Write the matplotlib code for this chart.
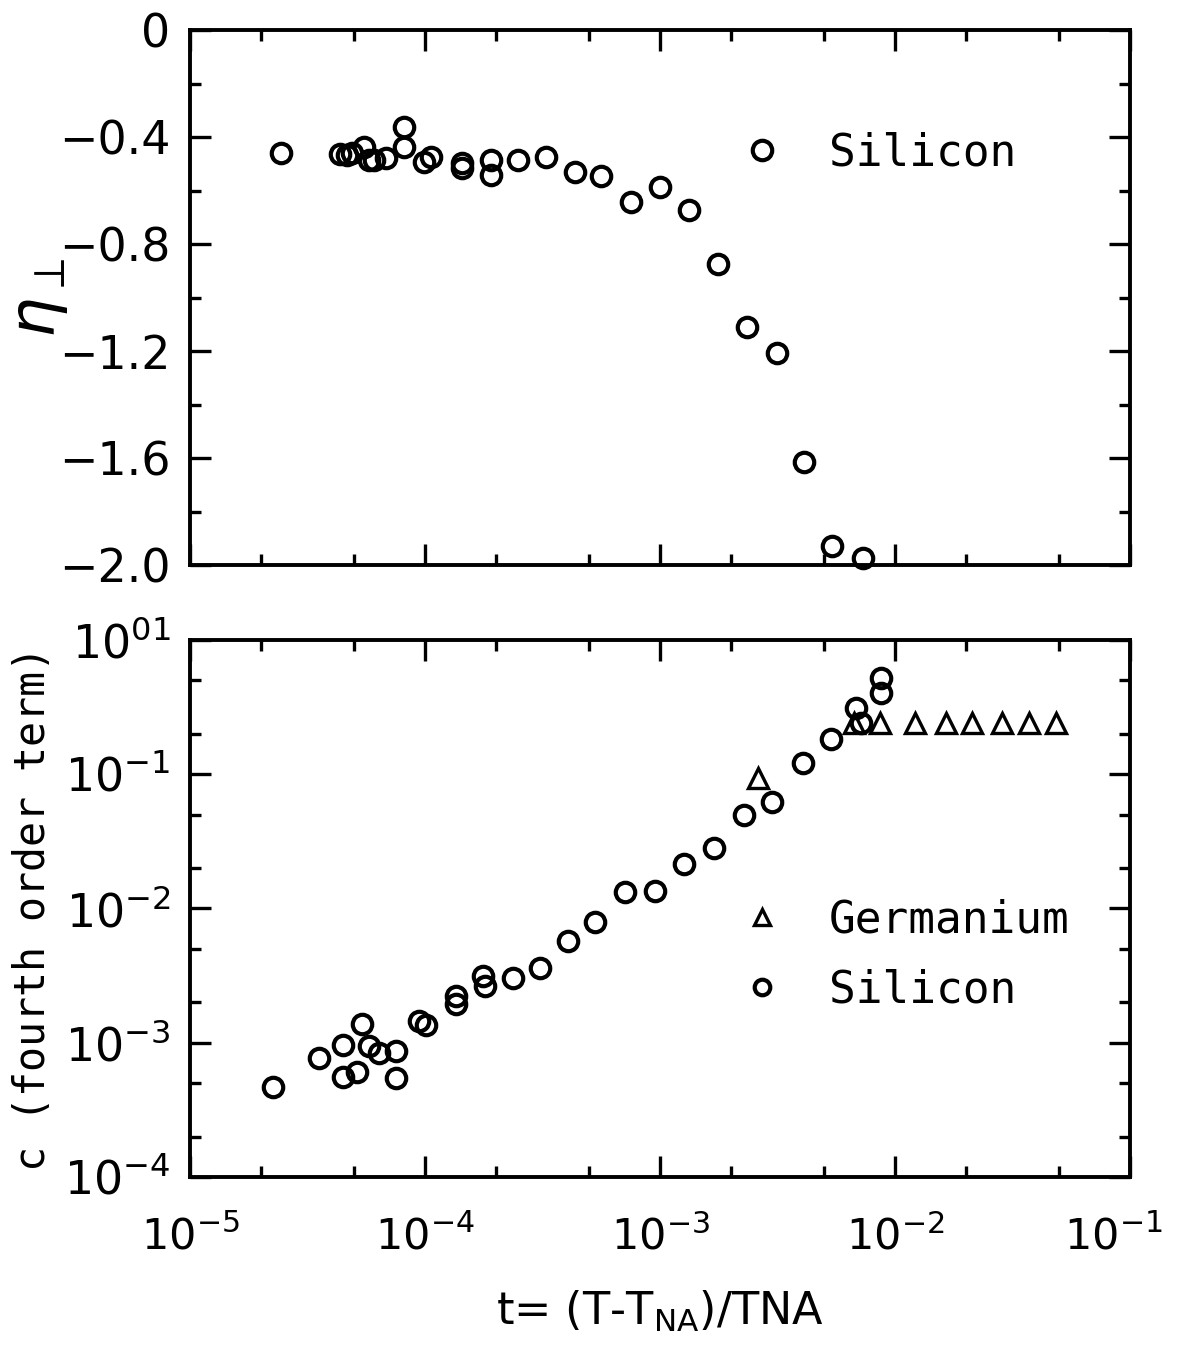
import matplotlib
matplotlib.use('Agg')
import matplotlib.pyplot as plt
import matplotlib.transforms as mtransforms
from matplotlib.ticker import LogLocator, FixedLocator, FixedFormatter, MultipleLocator, NullFormatter

# top panel: eta_perp, silicon
t_si_eta = [2.43e-5, 4.33e-5, 4.66e-5, 4.89e-5, 5.5e-5, 5.77e-5, 6.06e-5, 6.8e-5,
            8.1e-5, 8.1e-5, 9.9e-5, 1.065e-4, 1.43e-4, 1.43e-4, 1.91e-4, 1.91e-4,
            2.49e-4, 3.27e-4, 4.33e-4, 5.63e-4, 7.54e-4, 1.0e-3, 1.33e-3, 1.77e-3,
            2.35e-3, 3.13e-3, 4.1e-3, 5.4e-3, 7.3e-3]
eta_si = [-0.46, -0.464, -0.467, -0.46, -0.437, -0.486, -0.486, -0.478,
          -0.363, -0.437, -0.493, -0.475, -0.497, -0.516, -0.486, -0.542,
          -0.486, -0.475, -0.531, -0.546, -0.643, -0.587, -0.673, -0.875,
          -1.11, -1.207, -1.615, -1.929, -1.974]

# bottom panel: fourth order term c
t_si = [2.26e-5, 3.55e-5, 4.48e-5, 4.48e-5, 5.13e-5, 5.39e-5, 5.77e-5, 6.36e-5,
        7.5e-5, 7.5e-5, 9.4e-5, 1.005e-4, 1.35e-4, 1.35e-4, 1.77e-4, 1.8e-4,
        2.37e-4, 3.08e-4, 4.04e-4, 5.31e-4, 7.11e-4, 9.53e-4, 1.26e-3, 1.69e-3,
        2.27e-3, 3.0e-3, 4.06e-3, 5.34e-3, 6.8e-3, 7.15e-3, 8.7e-3, 8.7e-3]
c_si = [4.7e-4, 7.7e-4, 9.7e-4, 5.6e-4, 6.1e-4, 1.39e-3, 9.5e-4, 8.4e-4,
        8.7e-4, 5.5e-4, 1.46e-3, 1.36e-3, 2.24e-3, 1.95e-3, 3.16e-3, 2.66e-3,
        3.06e-3, 3.63e-3, 5.77e-3, 7.87e-3, 1.32e-2, 1.34e-2, 2.13e-2, 2.8e-2,
        4.94e-2, 6.18e-2, 0.121, 0.182, 0.311, 0.240, 0.52, 0.40]
t_ge = [2.6e-3, 6.68e-3, 8.6e-3, 1.22e-2, 1.65e-2, 2.13e-2, 2.85e-2, 3.71e-2, 4.86e-2]
c_ge = [9.33e-2, 0.24, 0.24, 0.24, 0.24, 0.24, 0.24, 0.24, 0.24]

eta_ticks = [0, -0.4, -0.8, -1.2, -1.6, -2.0]
eta_labels = ['0', '\u22120.4', '\u22120.8', '\u22121.2', '\u22121.6', '\u22122.0']
c_ticks = [1e-4, 1e-3, 1e-2, 1e-1, 1e0]
c_labels = [r'$10^{-4}$', r'$10^{-3}$', r'$10^{-2}$', r'$10^{-1}$', r'$10^{01}$']
t_ticks = [1e-5, 1e-4, 1e-3, 1e-2, 1e-1]
t_labels = [r'$10^{-5}$', r'$10^{-4}$', r'$10^{-3}$', r'$10^{-2}$', r'$10^{-1}$']

plt.rcParams['font.family'] = ['DejaVu Sans']
plt.rcParams['mathtext.fontset'] = 'dejavusans'
mono = ['DejaVu Sans Mono']

fig = plt.figure(figsize=(11.79, 13.47), dpi=100)
ax1 = fig.add_axes([0.1612, 0.5805, 0.7973, 0.3972])
ax2 = fig.add_axes([0.1612, 0.1262, 0.7973, 0.3987])

circ = dict(linestyle='none', marker='o', mfc='none', mec='black', ms=14, mew=3.0, clip_on=False)
tri = dict(linestyle='none', marker='^', mfc='none', mec='black', ms=15, mew=2.4, clip_on=False)

for ax in (ax1, ax2):
    ax.set_xscale('log')
    ax.set_xlim(1e-5, 1e-1)
    ax.xaxis.set_major_locator(FixedLocator(t_ticks))
    ax.xaxis.set_minor_locator(LogLocator(base=10, subs=(2.0, 5.0), numticks=20))
    ax.xaxis.set_minor_formatter(NullFormatter())
    ax.tick_params(which='both', direction='in', top=True, right=True, width=2.4)
    ax.tick_params(which='major', length=15, labelsize=33, pad=14)
    ax.tick_params(which='minor', length=8)
    ax.tick_params(axis='x', which='major', pad=28, labelsize=31)
    for s in ax.spines.values():
        s.set_linewidth(2.8)

# top panel
ax1.plot(t_si_eta, eta_si, label='Silicon', **circ)
ax1.set_ylim(-2.0, 0)
ax1.yaxis.set_major_locator(FixedLocator(eta_ticks))
ax1.yaxis.set_major_formatter(FixedFormatter(eta_labels))
ax1.yaxis.set_minor_locator(MultipleLocator(0.2))
ax1.set_xticklabels([])
ax1.set_ylabel(r'$\eta_{\perp}$', fontsize=46)
ax1.yaxis.set_label_coords(-0.128, 0.5)
ax1.legend(loc='center left', bbox_to_anchor=(0.59, 0.77), frameon=False,
           handlelength=0.8, handletextpad=1.1, borderpad=0, borderaxespad=0,
           prop={'family': mono, 'size': 32})

# bottom panel
ax2.set_yscale('log')
ge, = ax2.plot(t_ge, c_ge, label='Germanium', **tri)
si, = ax2.plot(t_si, c_si, label='Silicon', **circ)
ax2.set_ylim(1e-4, 1e0)
ax2.yaxis.set_major_locator(FixedLocator(c_ticks))
ax2.yaxis.set_major_formatter(FixedFormatter(c_labels))
ax2.yaxis.set_minor_locator(LogLocator(base=10, subs=(2.0, 5.0), numticks=20))
ax2.yaxis.set_minor_formatter(NullFormatter())
ax2.xaxis.set_major_formatter(FixedFormatter(t_labels))
ax2.set_ylabel('c (fourth order term)', fontsize=30, family=mono)
ax2.yaxis.set_label_coords(-0.145, 0.5)
ax2.set_xlabel(r't= (T-T$_{\rm NA}$)/TNA', fontsize=32, labelpad=22)
ax2.legend(handles=[ge, si], loc='center left', bbox_to_anchor=(0.59, 0.413), frameon=False,
           handlelength=0.8, handletextpad=1.1, labelspacing=0.6, borderpad=0,
           borderaxespad=0, markerscale=0.8, prop={'family': mono, 'size': 32})

# last x tick label sits at the figure edge; nudge it in a little
last = ax2.get_xticklabels()[-1]
last.set_transform(last.get_transform() + mtransforms.ScaledTranslation(-12 / 72, 0, fig.dpi_scale_trans))

fig.savefig('out.png', dpi=100)
